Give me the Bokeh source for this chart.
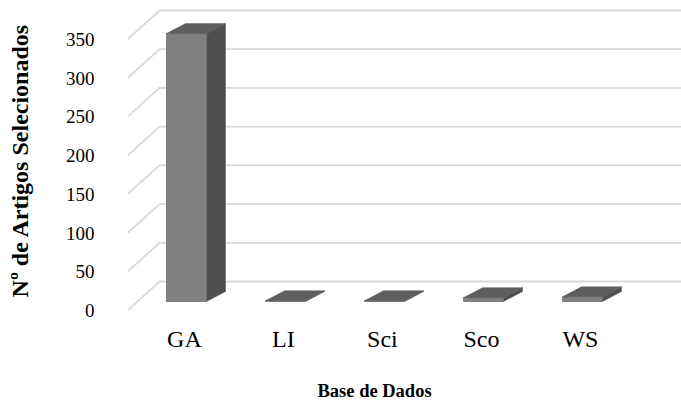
from bokeh.plotting import figure
from bokeh.models import Range1d, FixedTicker, Title
from bokeh.embed import file_html
from bokeh.resources import INLINE

categories = ["GA", "LI", "Sci", "Sco", "WS"]
values = [346, 1, 1, 5, 6]
y_ticks = [0, 50, 100, 150, 200, 250, 300, 350]

FONT = "'Liberation Serif', 'Times New Roman', serif"

# geometry (pixel scale of the pseudo-3D projection)
FW, FH = 554, 304
PX_X = 99.0            # px per category
PX_Y = 271.0 / 350.0   # px per value unit
x0 = -0.575
x_end = x0 + FW / PX_X
y_start = -2.0 / PX_Y
y_end = y_start + FH / PX_Y
wall_dx = 32.0 / PX_X
wall_dy = 29.0 / PX_Y
face_off = 39.0 / PX_X
face_w = 40.0 / PX_X
base = 9.0 / PX_Y
ddx = 19.0 / PX_X
ddy = 10.0 / PX_Y

p = figure(frame_width=FW, frame_height=FH, x_range=Range1d(x0, x_end),
           y_range=Range1d(y_start, y_end), output_backend="svg",
           toolbar_location=None, min_border_left=127, min_border_right=0,
           min_border_top=8, min_border_bottom=90)
p.outline_line_color = None
p.xgrid.visible = False
p.ygrid.visible = False
p.background_fill_color = "white"
p.border_fill_color = "white"

# back wall + floor/side gridlines
gx, gy = [], []
for v in y_ticks:
    gx.append([x0, x0 + wall_dx, x_end + 1])
    gy.append([v, v + wall_dy, v + wall_dy])
p.multi_line(gx, gy, line_color="#d9d9d9", line_width=1.8)

# bars
fx, fy, sx, sy, tx, ty = [], [], [], [], [], []
for i, v in enumerate(values):
    a = x0 + i + face_off
    b = a + face_w
    y0 = base
    y1 = base + v
    fx.append([a, b, b, a]); fy.append([y0, y0, y1, y1])
    sx.append([b, b + ddx, b + ddx, b]); sy.append([y0, y0 + ddy, y1 + ddy, y1])
    tx.append([a, b, b + ddx, a + ddx]); ty.append([y1, y1, y1 + ddy, y1 + ddy])

p.patches(sx, sy, fill_color="#4f4f4f", line_color="#4f4f4f", line_width=0.5)
p.patches(fx, fy, fill_color="#808080", line_color="#6e6e6e", line_width=0.8)
p.patches(tx, ty, fill_color="#5e5e5e", line_color="#5e5e5e", line_width=0.5)

# y axis
ya = p.yaxis[0]
ya.ticker = FixedTicker(ticks=y_ticks)
ya.axis_line_color = None
ya.major_tick_line_color = None
ya.minor_tick_line_color = None
ya.major_tick_out = 0
ya.major_tick_in = 0
ya.major_label_standoff = 33
ya.major_label_text_font = FONT
ya.major_label_text_font_size = "19px"
ya.major_label_text_color = "#000000"
ya.axis_label = "Nº de Artigos Selecionados"
ya.axis_label_text_font = FONT
ya.axis_label_text_font_size = "24px"
ya.axis_label_text_font_style = "bold"
ya.axis_label_text_color = "#000000"
ya.axis_label_standoff = 30

# x axis
xa = p.xaxis[0]
xa.ticker = FixedTicker(ticks=list(range(len(categories))))
xa.major_label_overrides = {i: c for i, c in enumerate(categories)}
xa.axis_line_color = None
xa.major_tick_line_color = None
xa.minor_tick_line_color = None
xa.major_tick_out = 0
xa.major_tick_in = 0
xa.major_label_standoff = 13
xa.major_label_text_font = FONT
xa.major_label_text_font_size = "24px"
xa.major_label_text_color = "#000000"

t = Title(text="Base de Dados", align="left", offset=190, standoff=49,
          text_font=FONT, text_font_size="18.5px", text_font_style="bold",
          text_color="#000000")
p.add_layout(t, "below")

open("out.html", "w").write(file_html(p, INLINE))
